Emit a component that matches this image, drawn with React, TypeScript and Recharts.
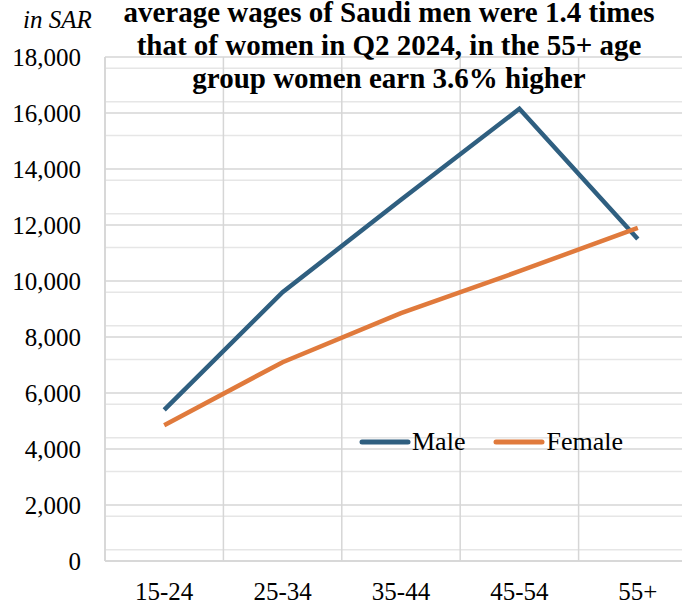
import { LineChart, Line, XAxis, YAxis, CartesianGrid, Legend } from 'recharts'

const ageGroups = ['15-24', '25-34', '35-44', '45-54', '55+']
const maleWages = [5400, 9600, 12900, 16150, 11500]
const femaleWages = [4850, 7100, 8850, 10350, 11900]
const seriesNames = ['Male', 'Female']
const yTicks = [0, 2000, 4000, 6000, 8000, 10000, 12000, 14000, 16000, 18000]
const yMinor = [400, 800, 1200, 1600, 2400, 2800, 3200, 3600, 4400, 4800, 5200, 5600, 6400, 6800, 7200, 7600,
    8400, 8800, 9200, 9600, 10400, 10800, 11200, 11600, 12400, 12800, 13200, 13600, 14400, 14800, 15200, 15600,
    16400, 16800, 17200, 17600]
const titleLines = [
    'average wages of Saudi men were 1.4 times',
    'that of women in Q2 2024, in the 55+ age',
    'group women earn 3.6% higher',
]

const MALE = '#2f5f80'
const FEMALE = '#e07a3c'
const FONT = '"Liberation Serif", "Times New Roman", serif'

const data = ageGroups.map((g, i) => ({ group: g, Male: maleWages[i], Female: femaleWages[i] }))

// vertical grid lines sit on the band edges of the category axis
const bandEdges = (props: any) => {
    const off = props?.offset
    if (!off || typeof off.left !== 'number' || typeof off.width !== 'number') return []
    const step = off.width / ageGroups.length
    return [0, ...ageGroups.map((_, i) => i + 1)].map((i) => off.left + i * step)
}

const LegendContent = (props: any) => {
    const items = [...(props.payload || [])].sort(
        (a: any, b: any) => seriesNames.indexOf(a.value) - seriesNames.indexOf(b.value))
    return (
        <div style={{ display: 'flex', alignItems: 'center', fontFamily: FONT, fontSize: 26, color: '#000', lineHeight: '30px' }}>
            {items.map((item: any, i: number) => (
                <div key={i} style={{ display: 'flex', alignItems: 'center', marginRight: 28 }}>
                    <svg width={52} height={8}>
                        <line x1={3} y1={4} x2={49} y2={4} stroke={item.color} strokeWidth={5} strokeLinecap="round" />
                    </svg>
                    <span style={{ marginLeft: 1 }}>{item.value}</span>
                </div>
            ))}
        </div>
    )
}

const App = () => {
    return (
        <div style={{ position: 'absolute', left: 0, top: 0, width: 682, height: 605, overflow: 'hidden', background: '#fff' }}>
            <LineChart width={720} height={605} data={data} margin={{ top: 57, right: 23, bottom: 0, left: 0 }}>
                <CartesianGrid horizontalValues={yMinor} vertical={false} stroke="#e6e6e6" strokeWidth={1.5} />
                <CartesianGrid horizontalValues={yTicks} verticalCoordinatesGenerator={bandEdges}
                    stroke="#d6d6d6" strokeWidth={1.5} />
                <XAxis dataKey="group" scale="band" tickLine={false} tickSize={0} tickMargin={21} height={44}
                    axisLine={{ stroke: '#d6d6d6', strokeWidth: 1.5 }}
                    tick={{ fill: '#000', fontSize: 25, fontFamily: FONT }} />
                <YAxis domain={[0, 18000]} ticks={yTicks} width={105} tickLine={false} tickSize={0} tickMargin={24}
                    axisLine={{ stroke: '#d6d6d6', strokeWidth: 1.5 }}
                    tickFormatter={(v: number) => v.toLocaleString('en-US')}
                    tick={{ fill: '#000', fontSize: 25, fontFamily: FONT }} />
                <Line dataKey="Male" stroke={MALE} strokeWidth={4.5} dot={false} isAnimationActive={false} />
                <Line dataKey="Female" stroke={FEMALE} strokeWidth={4.5} dot={false} isAnimationActive={false} />
                <Legend content={LegendContent} layout="horizontal" verticalAlign="middle" align="center"
                    wrapperStyle={{ position: 'absolute', left: 359, top: 427, width: 'auto' }} />
            </LineChart>
            <div style={{ position: 'absolute', left: 23, top: 6, fontFamily: FONT, fontStyle: 'italic', fontSize: 25 }}>in SAR</div>
            <div style={{ position: 'absolute', left: 100, width: 578, top: -4, textAlign: 'center', fontFamily: FONT,
                fontWeight: 'bold', fontSize: 29, lineHeight: '33px', color: '#000' }}>
                {titleLines.map((t, i) => <div key={i}>{t}</div>)}
            </div>
        </div>
    )
}

export default App
